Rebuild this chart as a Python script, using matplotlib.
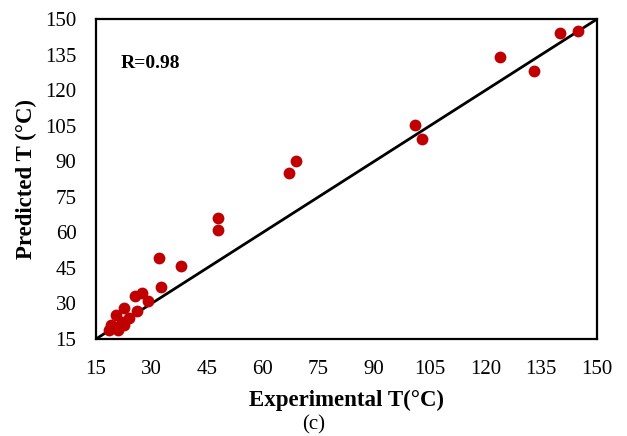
import matplotlib
matplotlib.use("Agg")
from matplotlib import pyplot as plt

plt.rcParams['font.family'] = ['Liberation Serif', 'DejaVu Serif']

# experimental vs predicted temperatures (deg C)
exp_t = [140, 145, 124, 133, 101, 103, 69, 67, 48, 48, 38, 32, 32.5,
         25.5, 27.5, 29, 22.5, 26, 20.5, 24, 22, 19, 18.5, 21, 20, 22.5]
pred_t = [144, 145, 134, 128, 105.5, 99.5, 90, 85, 66, 61, 46, 49, 37,
          33, 34.5, 31, 28, 27, 25, 24, 22, 21, 19, 19, 20, 21]
ticks = [15, 30, 45, 60, 75, 90, 105, 120, 135, 150]

fig = plt.figure(figsize=(6.27, 4.36), dpi=100)
ax = fig.add_axes([0.153, 0.2225, 0.799, 0.7335])

ax.plot([15, 150], [15, 150], color='black', lw=2, zorder=2)
ax.plot(exp_t, pred_t, 'o', color='#C00000', ms=8.5, mec='none', zorder=3)

ax.set_xlim(15, 150)
ax.set_ylim(15, 150)
ax.set_xticks(ticks)
ax.set_yticks(ticks)
ax.tick_params(labelsize=15, length=0)
ax.tick_params(axis='x', pad=15)
ax.tick_params(axis='y', pad=14)
for s in ax.spines.values():
    s.set_linewidth(1.6)

ax.set_xlabel('Experimental T(°C)', fontsize=16.5, fontweight='bold', labelpad=8)
ax.set_ylabel('Predicted T (°C)', fontsize=16.5, fontweight='bold', labelpad=6)
ax.text(0.05, 0.8625, 'R=0.98', transform=ax.transAxes, fontsize=14,
        fontweight='bold', va='center', ha='left')
fig.text(0.5, 0.025, '(c)', fontsize=15, ha='center', va='center')

fig.savefig('out.png', dpi=100)
